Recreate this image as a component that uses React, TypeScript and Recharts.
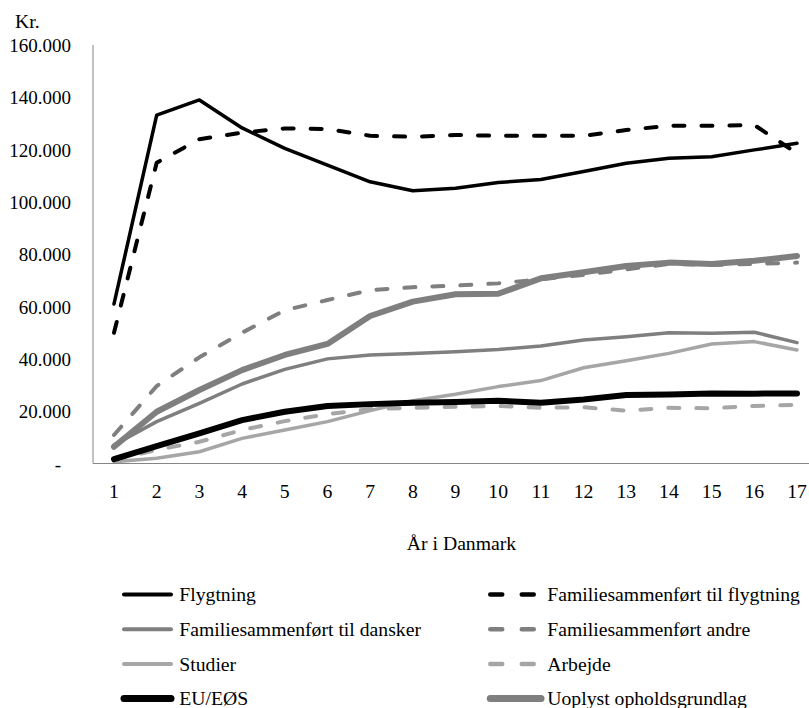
import React from 'react';
import { LineChart, Line, XAxis, YAxis } from 'recharts';

const FONT = '"Liberation Serif", Tinos, "Times New Roman", Times, "DejaVu Serif", serif';

const years = [1, 2, 3, 4, 5, 6, 7, 8, 9, 10, 11, 12, 13, 14, 15, 16, 17];
const yTicks = [0, 20000, 40000, 60000, 80000, 100000, 120000, 140000, 160000];

const flygtning = [61000, 133200, 139000, 128300, 120500, 114100, 107700, 104300, 105200, 107400, 108600, 111600, 114800, 116700, 117300, 119900, 122400];
const famFlygtning = [50000, 115000, 124000, 126500, 128100, 127900, 125300, 124900, 125600, 125300, 125300, 125300, 127500, 129100, 129100, 129400, 118600];
const famDansker = [7100, 16000, 23000, 30400, 36000, 40000, 41500, 42100, 42700, 43600, 44900, 47200, 48500, 50000, 49800, 50200, 46200];
const famAndre = [10900, 29600, 40600, 50000, 58600, 62500, 66300, 67400, 68000, 68900, 70400, 72100, 74200, 76300, 75900, 76300, 76800];
const studier = [700, 2000, 4500, 9600, 12800, 16000, 20200, 24000, 26500, 29400, 31700, 36600, 39300, 42100, 45700, 46600, 43400];
const arbejde = [1300, 5200, 8300, 12800, 16200, 18900, 20800, 21300, 21700, 22000, 21300, 21500, 20200, 21300, 21100, 22000, 22400];
const euEos = [1700, 6600, 11500, 16600, 19800, 22000, 22700, 23200, 23500, 24000, 23200, 24500, 26200, 26400, 26800, 26700, 26800];
const uoplyst = [6400, 19800, 28100, 35700, 41500, 45700, 56400, 61900, 64700, 64900, 70800, 73100, 75500, 76800, 76300, 77500, 79300];

const BLACK = '#000000';
const GRAY = '#7f7f7f';
const LIGHT = '#a6a6a6';

type S = { key: string; name: string; values: number[]; color: string; width: number; legendWidth: number; dashed: boolean; col: number; row: number };

const series: S[] = [
  { key: 'flygtning', name: 'Flygtning', values: flygtning, color: BLACK, width: 3.5, legendWidth: 4, dashed: false, col: 0, row: 0 },
  { key: 'famFlygtning', name: 'Familiesammenført til flygtning', values: famFlygtning, color: BLACK, width: 4, legendWidth: 4.5, dashed: true, col: 1, row: 0 },
  { key: 'famDansker', name: 'Familiesammenført til dansker', values: famDansker, color: GRAY, width: 3.5, legendWidth: 4, dashed: false, col: 0, row: 1 },
  { key: 'famAndre', name: 'Familiesammenført andre', values: famAndre, color: GRAY, width: 4, legendWidth: 4.5, dashed: true, col: 1, row: 1 },
  { key: 'studier', name: 'Studier', values: studier, color: LIGHT, width: 3.5, legendWidth: 4, dashed: false, col: 0, row: 2 },
  { key: 'arbejde', name: 'Arbejde', values: arbejde, color: LIGHT, width: 4, legendWidth: 4.5, dashed: true, col: 1, row: 2 },
  { key: 'euEos', name: 'EU/EØS', values: euEos, color: BLACK, width: 6, legendWidth: 7, dashed: false, col: 0, row: 3 },
  { key: 'uoplyst', name: 'Uoplyst opholdsgrundlag', values: uoplyst, color: GRAY, width: 6, legendWidth: 7, dashed: false, col: 1, row: 3 },
];

const data = years.map((year, i) => {
  const row: Record<string, number> = { year };
  series.forEach((s) => {
    row[s.key] = s.values[i];
  });
  return row;
});

const fmt = (v: number) => (v === 0 ? '-' : String(v).replace(/\B(?=(\d{3})+(?!\d))/g, '.'));

const textStyle = { fontFamily: FONT, fontSize: 19.7 };
const yTickStyle = { fontFamily: FONT, fontSize: 19 };

const YTick = (props: any) => {
  const { x, y, payload } = props;
  const v = Number(payload.value);
  return (
    <text x={x} y={y} dy={7} dx={v === 0 ? -10 : 0} textAnchor="end" style={yTickStyle} fill="#000">
      {fmt(v)}
    </text>
  );
};

const XTick = (props: any) => {
  const { x, y, payload } = props;
  return (
    <text x={x} y={y + 34} textAnchor="middle" style={textStyle} fill="#000">
      {payload.value}
    </text>
  );
};

const legendRowY = [586.5, 621.2, 655.9, 690.6];
const legendCols = [
  { x1: 116, x2: 163, tx: 171.3 },
  { x1: 482.25, x2: 533, tx: 539.3 },
];

export default function App() {
  return (
    <div style={{ width: 793, height: 692, fontFamily: FONT }}>
      <div style={{ position: 'fixed', left: 0, top: 0, width: 809, height: 708, overflow: 'hidden', background: '#fff' }}>
        <div style={{ position: 'absolute', left: 8, top: 8 }}>
          <LineChart width={830} height={700} data={data} margin={{ top: 37, right: 20, bottom: 0, left: 0 }}>
            <XAxis
              dataKey="year"
              type="category"
              height={244.5}
              interval={0}
              padding={{ left: 21, right: 21 }}
              axisLine={{ stroke: '#868686', strokeWidth: 1 }}
              tickLine={false}
              tickSize={0}
              tickMargin={0}
              tick={<XTick />}
            />
            <YAxis
              type="number"
              domain={[0, 160000]}
              ticks={yTicks}
              width={85}
              interval={0}
              axisLine={{ stroke: '#868686', strokeWidth: 1 }}
              tickLine={false}
              tickSize={0}
              tickMargin={22}
              tick={<YTick />}
            />
            {series.map((s) => (
              <Line
                key={s.key}
                dataKey={s.key}
                name={s.name}
                type="linear"
                stroke={s.color}
                strokeWidth={s.width}
                strokeDasharray={s.dashed ? '11 17' : undefined}
                strokeLinecap="round"
                strokeLinejoin="round"
                dot={false}
                activeDot={false}
                isAnimationActive={false}
              />
            ))}
          </LineChart>
        </div>
        <svg width={801} height={700} style={{ position: 'absolute', left: 8, top: 8, pointerEvents: 'none' }}>
          <text x={7} y={20.3} style={textStyle} fill="#000">Kr.</text>
          <text x={453.5} y={542} textAnchor="middle" style={textStyle} fill="#000">År i Danmark</text>
          {series.map((s) => {
            const c = legendCols[s.col];
            const y = legendRowY[s.row];
            const x2 = s.dashed ? 526 : c.x2;
            return (
              <g key={s.key}>
                <line
                  x1={c.x1}
                  x2={x2}
                  y1={y}
                  y2={y}
                  stroke={s.color}
                  strokeWidth={s.legendWidth}
                  strokeLinecap="round"
                  strokeDasharray={s.dashed ? '12 19.5' : undefined}
                />
                <text x={c.tx} y={y + 6.7} style={textStyle} fill="#000">{s.name}</text>
              </g>
            );
          })}
        </svg>
      </div>
    </div>
  );
}
